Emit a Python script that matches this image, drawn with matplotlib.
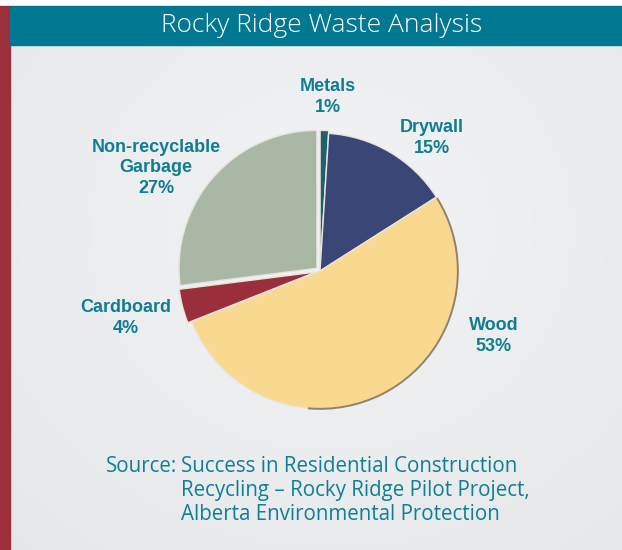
import numpy as np
import matplotlib
matplotlib.use("Agg")
import matplotlib.pyplot as plt
from matplotlib.patches import Arc

categories = ["Metals", "Drywall", "Wood", "Cardboard", "Non-recyclable\nGarbage"]
values = [1, 15, 53, 4, 27]
colors = ["#1f5f6e", "#3a4676", "#f9d88f", "#9a2f3b", "#a9b7a5"]
title = "Rocky Ridge Waste Analysis"
source_lines = ["Success in Residential Construction",
                "Recycling \u2013 Rocky Ridge Pilot Project,",
                "Alberta Environmental Protection"]

W, H = 622, 550
fig = plt.figure(figsize=(W / 100, H / 100), dpi=100)

def fx(x):
    return x / W

def fy(y):
    return 1 - y / H

# background
bg = fig.add_axes([0, 0, 1, 1])
bg.set_axis_off()
yy, xx = np.mgrid[0:H, 0:W]
d = np.sqrt(((xx - 330) / 420.0) ** 2 + ((yy - 230) / 380.0) ** 2)
g = 0.955 - 0.045 * np.clip(d, 0, 1.4)
img = np.dstack([g - 0.004, g, g + 0.004])
bg.imshow(np.clip(img, 0, 1), extent=[0, W, H, 0], aspect="auto")
bg.set_xlim(0, W)
bg.set_ylim(H, 0)
bg.add_patch(plt.Rectangle((0, 0), W, 6, color="white", zorder=2))
bg.add_patch(plt.Rectangle((0, 6), 10, H - 6, color="#9b2f3c", zorder=2))
bg.add_patch(plt.Rectangle((10, 6), W - 10, 39, color="#017891", zorder=2))
bg.text(322, 26, title, color="white", fontsize=19, ha="center", va="center",
        family="Open Sans", fontweight="light", zorder=3)

# pie
cx, cy, r = 320, 271, 142
ax = fig.add_axes([fx(cx - r), fy(cy + r), 2 * r / W, 2 * r / H])
explode = [0.02, 0.0, 0.0, 0.03, 0.03]
wedges, _ = ax.pie(values, colors=colors, startangle=90, counterclock=False,
                   explode=explode, radius=1.0,
                   wedgeprops=dict(edgecolor="#e8e4dc", linewidth=1.0))
ax.add_patch(Arc((0, 0), 2.0, 2.0, theta1=-95, theta2=32,
                 color="#6b5a3e", lw=1.4, alpha=0.7, zorder=5))
ax.set_xlim(-1.03, 1.03)
ax.set_ylim(-1.03, 1.03)
ax.set_aspect("equal")
ax.set_axis_off()

# labels
lab_color = "#0f7d93"
label_pos = [(328, 97), (432, 138), (494, 336), (126, 318), (156, 168)]
for cat, v, (x, y) in zip(categories, values, label_pos):
    fig.text(fx(x), fy(y), f"{cat}\n{v}%", color=lab_color, fontsize=13,
             fontweight="bold", ha="center", va="center", linespacing=1.3,
             family="Liberation Sans")

# source
src_color = "#0f7f95"
fig.text(fx(177), fy(466), "Source:", color=src_color, fontsize=14.8,
         ha="right", va="center", family="Open Sans")
for i, line in enumerate(source_lines):
    fig.text(fx(181), fy(466 + 24.5 * i), line, color=src_color, fontsize=14.8,
             ha="left", va="center", family="Open Sans")

fig.savefig("out.png", dpi=100)
